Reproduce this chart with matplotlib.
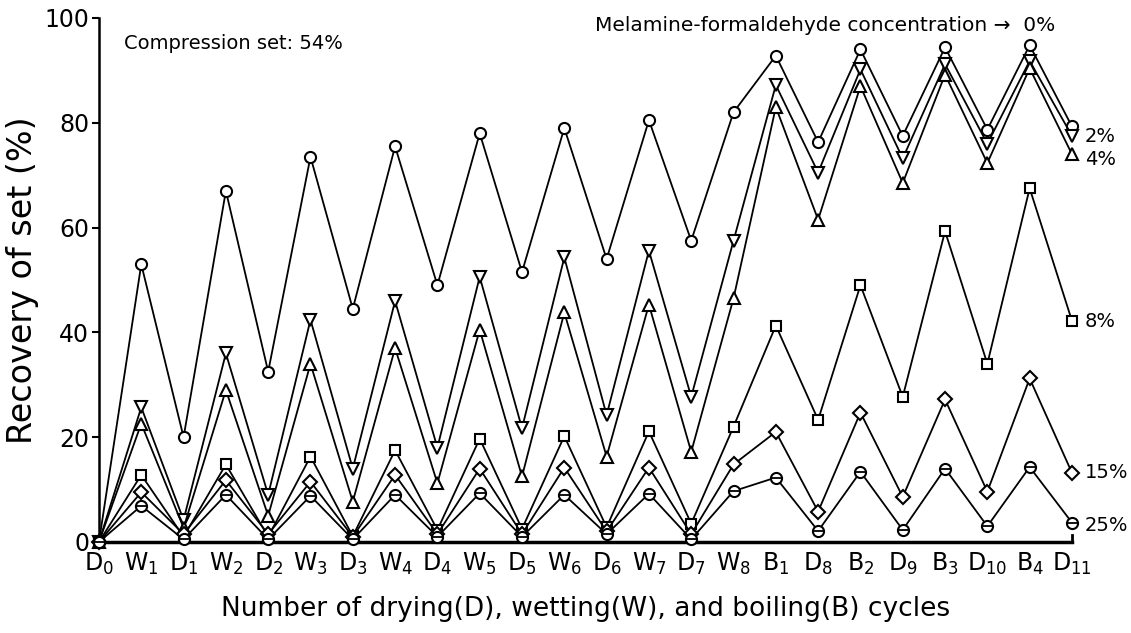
import numpy as np
import matplotlib.pyplot as plt

# cycle labels along the x axis
cycles = ['D0', 'W1', 'D1', 'W2', 'D2', 'W3', 'D3', 'W4', 'D4', 'W5', 'D5', 'W6',
          'D6', 'W7', 'D7', 'W8', 'B1', 'D8', 'B2', 'D9', 'B3', 'D10', 'B4', 'D11']

# recovery of set (%) for each melamine-formaldehyde concentration
mf0 = [0, 53, 20, 67, 32.5, 73.5, 44.5, 75.5, 49, 78, 51.5, 79, 54, 80.5, 57.5, 82,
       92.8, 76.3, 94, 77.5, 94.4, 78.7, 94.8, 79.3]
mf2 = [0, 25.7, 4.2, 36, 9, 42.4, 14, 46, 18, 50.6, 21.7, 54.3, 24.2, 55.6, 27.7, 57.5,
       87.2, 70.5, 90.2, 73.2, 91.2, 76, 91.8, 77.5]
mf4 = [0, 22.6, 2.7, 29, 5, 34, 7.7, 37, 11.2, 40.5, 12.5, 43.8, 16.3, 45.3, 17.2, 46.5,
       83, 61.5, 87, 68.5, 89.2, 72.3, 90.4, 74]
mf8 = [0, 12.8, 1, 14.8, 1, 16.3, 1.1, 17.5, 2.3, 19.7, 2.5, 20.2, 2.8, 21.1, 3.5, 22,
       41.3, 23.3, 49, 27.7, 59.3, 34, 67.5, 42.2]
mf15 = [0, 9.5, 1.5, 11.8, 1.5, 11.5, 1, 12.8, 1.5, 14, 1.5, 14.2, 2, 14.2, 1.5, 14.8,
        21, 5.8, 24.7, 8.6, 27.2, 9.6, 31.2, 13.2]
mf25 = [0, 6.9, 0.5, 9, 0.5, 8.8, 0.5, 9, 1, 9.3, 1, 9, 1.5, 9.2, 0.5, 9.7,
        12.3, 2.1, 13.4, 2.3, 14, 3, 14.3, 3.7]

series = [(mf0, 'o', '0%'), (mf2, 'v', '2%'), (mf4, '^', '4%'),
          (mf8, 's', '8%'), (mf15, 'D', '15%'), (mf25, 'o', '25%')]

plt.rcParams['font.family'] = 'DejaVu Sans'
plt.rcParams['mathtext.fontset'] = 'dejavusans'

fig = plt.figure(figsize=(11.31, 6.33), dpi=100)
ax = fig.add_axes([0.0875, 0.1438, 0.8603, 0.8278])

x = np.arange(len(cycles))
sizes = {'o': 8, 'v': 8.5, '^': 8.5, 's': 7.5, 'D': 7.5}
for vals, mk, lab in series:
    ax.plot(x, vals, color='black', lw=1.3, marker=mk, ms=sizes[mk],
            mfc='white', mec='black', mew=1.5, clip_on=False, zorder=3)
# bar through the 25% circles
ax.plot(x, mf25, ls='none', marker='_', ms=7, mec='black', mew=1.3,
        clip_on=False, zorder=4)

ax.set_xlim(0, len(cycles) - 1)
ax.set_ylim(0, 100)
ax.set_yticks(np.arange(0, 101, 20))
ax.tick_params(axis='y', direction='out', length=5, width=1.5, labelsize=17, pad=2)

labels = []
for c in cycles:
    labels.append(c[0] + r'$_{' + c[1:] + '}$')
ax.set_xticks(x)
ax.set_xticklabels(labels, fontsize=17)
ax.tick_params(axis='x', length=0, pad=6)

ax.spines['top'].set_visible(False)
ax.spines['right'].set_bounds(0, 1.3)
ax.spines['right'].set_linewidth(2)
ax.spines['bottom'].set_linewidth(2.5)
ax.spines['left'].set_linewidth(1.8)

ax.set_ylabel('Recovery of set (%)', fontsize=24, labelpad=4)
ax.set_xlabel('Number of drying(D), wetting(W), and boiling(B) cycles',
              fontsize=19, labelpad=14)

ax.text(0.6, 95.2, 'Compression set: 54%', fontsize=14, ha='left', va='center')
ax.text(22.6, 98.5, 'Melamine-formaldehyde concentration \u2192  0%', fontsize=14.5,
        ha='right', va='center', clip_on=False)

# concentration labels next to the last points
end_y = {'2%': 77.3, '4%': 72.9, '8%': 42, '15%': 13.2, '25%': 3.2}
for lab, yy in end_y.items():
    ax.text(23.3, yy, lab, fontsize=14, ha='left', va='center', clip_on=False)

fig.savefig('out.png', dpi=100)
